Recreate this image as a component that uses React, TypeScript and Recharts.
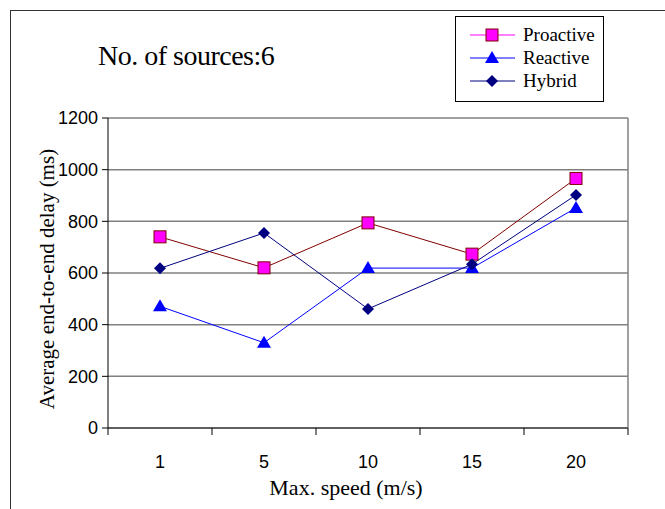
import React from "react";
import {
  LineChart,
  Line,
  XAxis,
  YAxis,
  CartesianGrid,
} from "recharts";

const speeds = ["1", "5", "10", "15", "20"];
const proactive = [740, 620, 794, 673, 966];
const reactive = [471, 330, 619, 619, 852];
const hybrid = [618, 755, 461, 634, 902];
const yTicks = [0, 200, 400, 600, 800, 1000, 1200];

const seriesNames = ["Proactive", "Reactive", "Hybrid"];

const data = speeds.map((s, i) => ({
  speed: s,
  proactive: proactive[i],
  reactive: reactive[i],
  hybrid: hybrid[i],
}));

const SERIF = '"Liberation Serif", "Times New Roman", serif';
const SANS = '"Liberation Sans", Arial, sans-serif';
const X_PAD = 52;

function SquareDot(props: any) {
  const { cx, cy } = props;
  if (cx == null || cy == null) return null;
  return <rect x={cx - 6} y={cy - 6} width={12} height={12} fill="#ff00ff" stroke="#800000" strokeWidth={1} />;
}

function TriangleDot(props: any) {
  const { cx, cy } = props;
  if (cx == null || cy == null) return null;
  return <polygon points={`${cx},${cy - 7} ${cx + 7},${cy + 5} ${cx - 7},${cy + 5}`} fill="#0000ff" />;
}

function DiamondDot(props: any) {
  const { cx, cy } = props;
  if (cx == null || cy == null) return null;
  return <polygon points={`${cx},${cy - 6} ${cx + 6},${cy} ${cx},${cy + 6} ${cx - 6},${cy}`} fill="#000080" />;
}

// Excel-style category ticks: marks sit between categories, labels in the middle
function SpeedTick(props: any) {
  const { x, y, payload, index, visibleTicksCount, width } = props;
  const n = visibleTicksCount || speeds.length;
  const half = typeof width === "number" && n > 1 ? (width - 2 * X_PAD) / (n - 1) / 2 : X_PAD;
  return (
    <g>
      <line x1={x - half} x2={x - half} y1={y} y2={y + 7} stroke="#000" />
      {index === n - 1 && <line x1={x + half} x2={x + half} y1={y} y2={y + 7} stroke="#000" />}
      <text x={x} y={y + 40} textAnchor="middle" fontFamily={SANS} fontSize={18} fill="#000">
        {payload.value}
      </text>
    </g>
  );
}

function LegendBox() {
  const rows = [
    { name: seriesNames[0], color: "#ff00ff", Icon: SquareDot },
    { name: seriesNames[1], color: "#0000ff", Icon: TriangleDot },
    { name: seriesNames[2], color: "#000080", Icon: DiamondDot },
  ];
  return (
    <svg width={149} height={86} style={{ display: "block" }}>
      <rect x={0.5} y={0.5} width={148} height={85} fill="#fff" stroke="#000" />
      {rows.map((r, i) => {
        const y = 19 + i * 23;
        return (
          <g key={r.name}>
            <line x1={15} x2={60} y1={y} y2={y} stroke={r.color} strokeWidth={1} />
            <r.Icon cx={37} cy={y} />
            <text x={68} y={y + 6} fontFamily={SERIF} fontSize={19} fill="#000">
              {r.name}
            </text>
          </g>
        );
      })}
    </svg>
  );
}

function YTitle(props: any) {
  const { viewBox } = props;
  const x = viewBox.x + 17;
  const y = viewBox.y + viewBox.height / 2 + 6;
  return (
    <text
      x={x}
      y={y}
      transform={`rotate(-90, ${x}, ${y})`}
      textAnchor="middle"
      dominantBaseline="central"
      fontFamily={SERIF}
      fontSize={21}
      fill="#000"
    >
      Average end-to-end delay (ms)
    </text>
  );
}

function XTitle(props: any) {
  const { viewBox } = props;
  const x = viewBox.x + viewBox.width / 2 - 22;
  const y = viewBox.y + 67;
  return (
    <text x={x} y={y} textAnchor="middle" fontFamily={SERIF} fontSize={22} fill="#000">
      Max. speed (m/s)
    </text>
  );
}

export default function App() {
  return (
    <div
      style={{
        position: "absolute",
        left: 0,
        top: 0,
        width: 665,
        height: 509,
        overflow: "hidden",
        background: "#fff",
      }}
    >
      <div
        style={{
          position: "absolute",
          left: 10,
          top: 10,
          width: 700,
          height: 600,
          border: "1.5px solid #333",
        }}
      />
      <div
        style={{
          position: "absolute",
          left: 98,
          top: 40,
          fontFamily: SERIF,
          fontSize: 28,
          letterSpacing: -0.5,
          lineHeight: "32px",
          color: "#000",
          whiteSpace: "nowrap",
        }}
      >
        No. of sources:6
      </div>
      <div style={{ position: "absolute", left: 0, top: 0 }}>
        <LineChart
          width={665}
          height={509}
          data={data}
          margin={{ top: 118, right: 37, left: 30, bottom: 21 }}
        >
          <CartesianGrid horizontal vertical={false} stroke="#808080" strokeWidth={1.5} />
          <CartesianGrid
            horizontal={false}
            vertical
            stroke="#808080"
            strokeWidth={1.5}
            verticalCoordinatesGenerator={({ offset }: any) => [offset.left + offset.width]}
          />
          <XAxis
            dataKey="speed"
            tickLine={false}
            tickSize={0}
            tickMargin={0}
            interval={0}
            axisLine={{ stroke: "#606060", strokeWidth: 2 }}
            height={60}
            padding={{ left: X_PAD, right: X_PAD }}
            tick={<SpeedTick />}
            label={<XTitle />}
          />
          <YAxis
            domain={[0, 1200]}
            ticks={yTicks}
            width={78}
            tickSize={6}
            tickMargin={4}
            axisLine={{ stroke: "#000" }}
            tickLine={{ stroke: "#000" }}
            tick={{ fontFamily: SANS, fontSize: 18, fill: "#000" }}
            label={<YTitle />}
          />
          <Line
            name={seriesNames[0]}
            dataKey="proactive"
            stroke="#800000"
            strokeWidth={1}
            dot={<SquareDot />}
            activeDot={false}
            isAnimationActive={false}
          />
          <Line
            name={seriesNames[1]}
            dataKey="reactive"
            stroke="#0000ff"
            strokeWidth={1}
            dot={<TriangleDot />}
            activeDot={false}
            isAnimationActive={false}
          />
          <Line
            name={seriesNames[2]}
            dataKey="hybrid"
            stroke="#000080"
            strokeWidth={1}
            dot={<DiamondDot />}
            activeDot={false}
            isAnimationActive={false}
          />
        </LineChart>
      </div>
      <div style={{ position: "absolute", left: 455, top: 16 }}>
        <LegendBox />
      </div>
    </div>
  );
}
